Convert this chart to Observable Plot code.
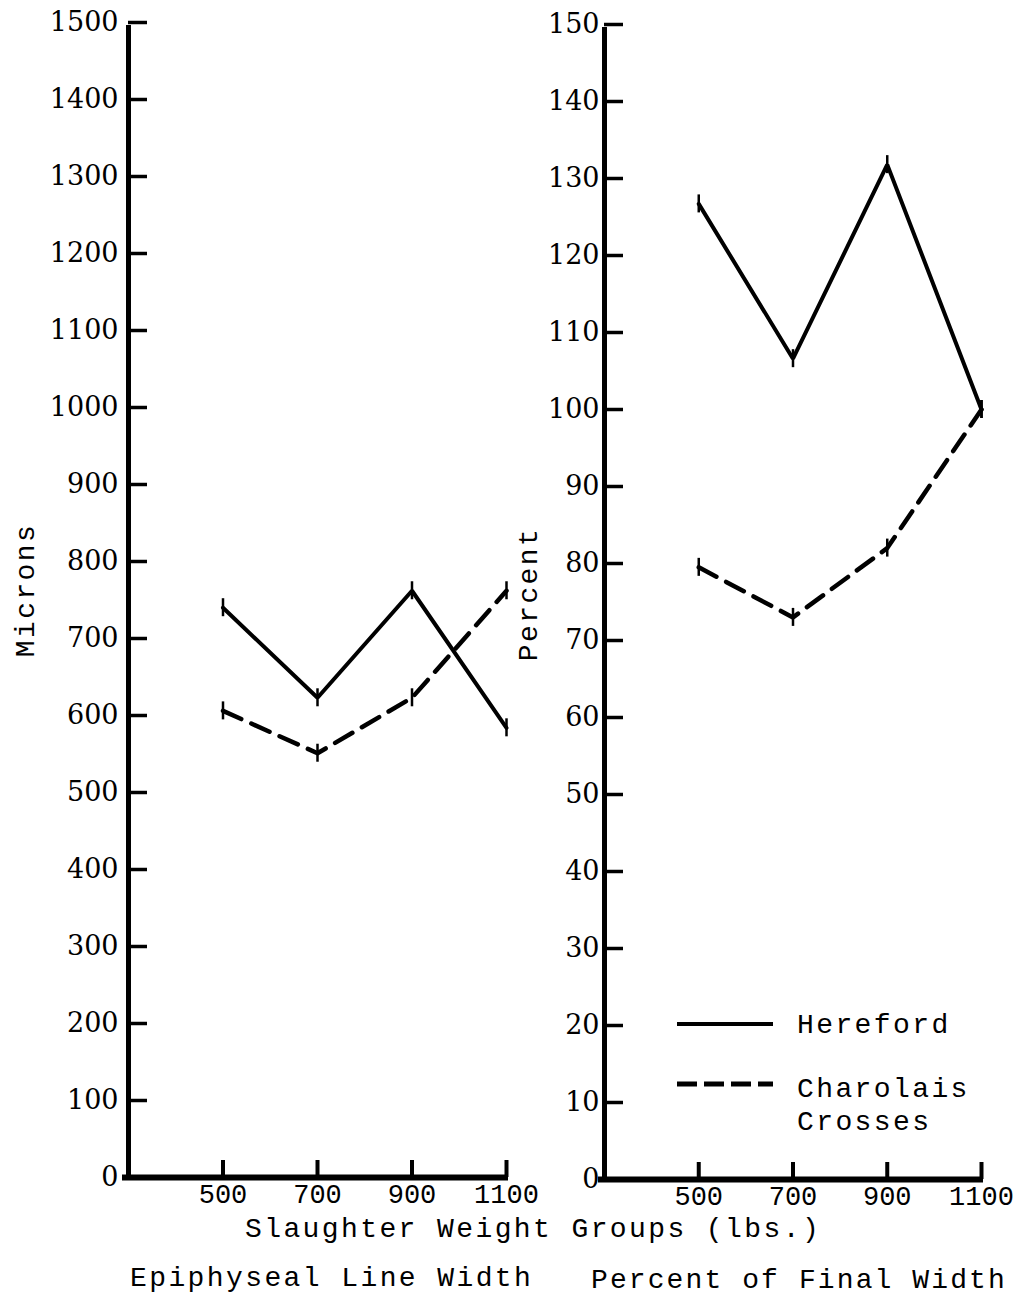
<!DOCTYPE html>
<html>
<head>
<meta charset="utf-8">
<script src="https://cdn.jsdelivr.net/npm/d3@7"></script>
<script src="https://cdn.jsdelivr.net/npm/@observablehq/plot@0.6"></script>
<style>
  html, body { margin: 0; padding: 0; background: #fff; }
  #wrap { position: relative; width: 1020px; height: 1295px; overflow: hidden; background: #fff; }
  #wrap > svg, #wrap > figure { position: absolute; top: 0; margin: 0; }
  #overlay { left: 0; top: 0; pointer-events: none; }
  .tw { font-family: "Liberation Mono", "DejaVu Sans Mono", monospace; font-size: 28px; letter-spacing: 2.4px; fill: #000; }
</style>
</head>
<body>
<div id="wrap"></div>
<script>
// ---- data ----
const weights = [500, 700, 900, 1100];
const xDomain = [300, 1100];

const herefordMicrons = [740, 623, 762, 584];
const charolaisMicrons = [606, 551, 623, 762];
const micronTicks = [0, 100, 200, 300, 400, 500, 600, 700, 800, 900, 1000, 1100, 1200, 1300, 1400, 1500];
const micronDomain = [0, 1500];

const herefordPercent = [126.7, 106.6, 131.8, 100];
const charolaisPercent = [79.5, 73, 82, 100];
const percentTicks = [0, 10, 20, 30, 40, 50, 60, 70, 80, 90, 100, 110, 120, 130, 140, 150];
const percentDomain = [0, 150];

const series = ["Hereford", "Charolais Crosses"];

const rows = (vals) => weights.map((w, i) => ({w, v: vals[i]}));

function panel({width, marginLeft, marginRight, marginTop, marginBottom, yDomain, yTicks, h, c, labelPad}) {
  const hRows = rows(h), cRows = rows(c);
  return Plot.plot({
    width, height: 1295, marginLeft, marginRight, marginTop, marginBottom,
    style: {background: "transparent", overflow: "visible", color: "#000"},
    x: {domain: xDomain},
    y: {domain: yDomain},
    marks: [
      Plot.axisY(yTicks, {tickSize: 0, tickPadding: labelPad, tickFormat: d3.format("d"), fontSize: 27, fontFamily: "DejaVu Serif", label: null, fill: "#000"}),
      Plot.axisX(weights, {tickSize: 0, tickPadding: 6, tickFormat: d3.format("d"), fontSize: 27, fontFamily: "Liberation Mono", label: null, fill: "#000"}),
      // y axis line
      Plot.ruleX([xDomain[0]], {y1: () => yDomain[0], y2: () => yDomain[1], strokeWidth: 5, stroke: "#000", insetBottom: -3}),
      // y ticks (inside, to the right)
      Plot.ruleY(yTicks, {y: d => d, x1: () => xDomain[0], x2: () => xDomain[0], insetRight: -19, strokeWidth: 3.5, stroke: "#000"}),
      // x axis line
      Plot.ruleY([yDomain[0]], {x1: () => xDomain[0], x2: () => weights[weights.length - 1], insetLeft: -6, insetRight: -2, strokeWidth: 6, stroke: "#000"}),
      // x ticks (upward)
      Plot.ruleX(weights, {x: d => d, y1: () => yDomain[0], y2: () => yDomain[0], insetTop: 0, insetBottom: 17, strokeWidth: 4, stroke: "#000"}),
      // series lines
      Plot.line(hRows, {x: "w", y: "v", stroke: "#000", strokeWidth: 4, strokeLinejoin: "miter"}),
      Plot.line(cRows, {x: "w", y: "v", stroke: "#000", strokeWidth: 4.5, strokeDasharray: "20,11"}),
      // point ticks
      Plot.ruleX(hRows, {x: "w", y1: "v", y2: "v", insetTop: -9, insetBottom: -9, strokeWidth: 2.5, stroke: "#000"}),
      Plot.ruleX(cRows, {x: "w", y1: "v", y2: "v", insetTop: -9, insetBottom: -9, strokeWidth: 2.5, stroke: "#000"})
    ]
  });
}

const wrap = document.getElementById("wrap");

const left = panel({width: 520, marginLeft: 128, marginRight: 14, marginTop: 22, marginBottom: 118,
  yDomain: micronDomain, yTicks: micronTicks, h: herefordMicrons, c: charolaisMicrons, labelPad: 10});
left.style.left = "0px";
wrap.appendChild(left);

const right = panel({width: 500, marginLeft: 84, marginRight: 39, marginTop: 24, marginBottom: 116,
  yDomain: percentDomain, yTicks: percentTicks, h: herefordPercent, c: charolaisPercent, labelPad: 5});
right.style.left = "520px";
wrap.appendChild(right);

// ---- overlay text & legend ----
const ns = "http://www.w3.org/2000/svg";
const ov = document.createElementNS(ns, "svg");
ov.setAttribute("id", "overlay");
ov.setAttribute("width", 1020);
ov.setAttribute("height", 1295);
ov.style.position = "absolute";
wrap.appendChild(ov);

function txt(s, x, y, attrs = {}) {
  const t = document.createElementNS(ns, "text");
  t.setAttribute("class", "tw");
  t.setAttribute("x", x);
  t.setAttribute("y", y);
  for (const k in attrs) t.setAttribute(k, attrs[k]);
  t.textContent = s;
  ov.appendChild(t);
  return t;
}
function ln(x1, y1, x2, y2, attrs = {}) {
  const l = document.createElementNS(ns, "line");
  l.setAttribute("x1", x1); l.setAttribute("y1", y1);
  l.setAttribute("x2", x2); l.setAttribute("y2", y2);
  l.setAttribute("stroke", "#000");
  for (const k in attrs) l.setAttribute(k, attrs[k]);
  ov.appendChild(l);
}

txt("Microns", 0, 0, {transform: "translate(34,590) rotate(-90)", "text-anchor": "middle"});
txt("Percent", 0, 0, {transform: "translate(537,594) rotate(-90)", "text-anchor": "middle"});
txt("Slaughter Weight Groups (lbs.)", 245, 1237);
txt("Epiphyseal Line Width", 130, 1286);
txt("Percent of Final Width", 591, 1288, {style: "letter-spacing: 2.1px"});

// legend
ln(677, 1024, 773, 1024, {"stroke-width": 4});
ln(677, 1084, 773, 1084, {"stroke-width": 5, "stroke-dasharray": "20,7"});
txt(series[0], 797, 1033);
txt("Charolais", 797, 1097);
txt("Crosses", 797, 1130);
</script>
</body>
</html>
